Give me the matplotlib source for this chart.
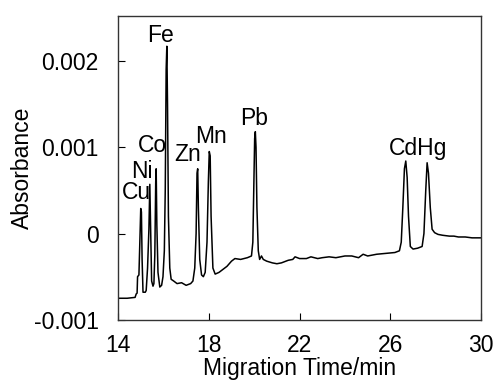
import matplotlib
matplotlib.use("Agg")
import matplotlib.pyplot as plt

plt.rcParams['font.family'] = ['Liberation Sans', 'DejaVu Sans']

# Migration time (min)
time_min = [
    14.00, 14.40, 14.75, 14.80, 14.84, 14.86, 14.92, 14.96, 15.00, 15.03,
    15.06, 15.10, 15.20, 15.24, 15.30, 15.36, 15.40, 15.44, 15.48, 15.54,
    15.58, 15.62, 15.66, 15.68, 15.71, 15.76, 15.84, 15.92, 15.98, 16.04,
    16.08, 16.12, 16.15, 16.18, 16.22, 16.28, 16.34, 16.45, 16.60, 16.80,
    17.00, 17.20, 17.30, 17.38, 17.44, 17.48, 17.51, 17.54, 17.60, 17.68,
    17.76, 17.84, 17.92, 17.98, 18.02, 18.06, 18.10, 18.18, 18.28, 18.45,
    18.60, 18.80, 19.00, 19.15, 19.40, 19.70, 19.88, 19.94, 19.98, 20.02,
    20.05, 20.08, 20.12, 20.18, 20.24, 20.32, 20.40, 20.55, 20.80, 21.00,
    21.20, 21.50, 21.70, 21.80, 22.00, 22.30, 22.50, 22.80, 23.00, 23.30,
    23.60, 24.00, 24.30, 24.60, 24.80, 25.00, 25.40, 25.80, 26.20, 26.40,
    26.48, 26.55, 26.62, 26.68, 26.74, 26.80, 26.88, 27.00, 27.20, 27.40,
    27.48, 27.56, 27.62, 27.68, 27.76, 27.84, 27.95, 28.10, 28.30, 28.60,
    28.80, 29.00, 29.30, 29.60, 30.00,
]

# Absorbance
absorbance = [
    -0.00075, -0.00075, -0.00074, -0.00070, -0.00069, -0.00050, -0.00048, -0.00010, 0.00029, 0.00025,
    -0.00030, -0.00068, -0.00068, -0.00066, -0.00040, 0.00005, 0.00057, 0.00000, -0.00055, -0.00061,
    -0.00058, -0.00025, 0.00060, 0.00075, 0.00010, -0.00045, -0.00062, -0.00060, -0.00050, -0.00020,
    0.00050, 0.00190, 0.00217, 0.00150, 0.00020, -0.00040, -0.00053, -0.00055, -0.00058, -0.00057,
    -0.00060, -0.00058, -0.00055, -0.00040, 0.00000, 0.00070, 0.00075, 0.00030, -0.00030, -0.00048,
    -0.00050, -0.00045, -0.00010, 0.00060, 0.00095, 0.00090, 0.00020, -0.00040, -0.00047, -0.00045,
    -0.00042, -0.00038, -0.00032, -0.00029, -0.00030, -0.00028, -0.00026, -0.00010, 0.00050, 0.00110,
    0.00118, 0.00100, 0.00030, -0.00020, -0.00030, -0.00026, -0.00030, -0.00032, -0.00034, -0.00035,
    -0.00034, -0.00031, -0.00030, -0.00027, -0.00029, -0.00029, -0.00027, -0.00029, -0.00028, -0.00027,
    -0.00028, -0.00026, -0.00026, -0.00028, -0.00024, -0.00026, -0.00024, -0.00023, -0.00022, -0.00020,
    -0.00010, 0.00030, 0.00075, 0.00084, 0.00065, 0.00020, -0.00015, -0.00018, -0.00017, -0.00015,
    0.00000, 0.00050, 0.00082, 0.00070, 0.00030, 0.00005, 0.00001, -0.00001, -0.00002, -0.00003,
    -0.00003, -0.00004, -0.00004, -0.00005, -0.00005,
]

# Peak labels
peak_names = ["Cu", "Ni", "Co", "Fe", "Zn", "Mn", "Pb", "CdHg"]
peak_label_x = [14.80, 15.06, 15.50, 15.88, 17.07, 18.10, 19.99, 27.23]
peak_label_y = [0.00047, 0.00072, 0.00102, 0.00230, 0.00091, 0.00112, 0.00133, 0.00098]

x_ticks = [14, 18, 22, 26, 30]
y_ticks = [-0.001, 0, 0.001, 0.002]
y_tick_labels = ["-0.001", "0", "0.001", "0.002"]

fig = plt.figure(figsize=(4.96, 3.91), dpi=100)
ax = fig.add_axes([0.238, 0.182, 0.732, 0.777])

ax.plot(time_min, absorbance, color="black", lw=1.1)

fs = 16.5
for name, lx, ly in zip(peak_names, peak_label_x, peak_label_y):
    ax.text(lx, ly, name, ha="center", va="center", fontsize=fs, color="black")

ax.set_xlim(14, 30)
ax.set_ylim(-0.001, 0.00252)
ax.set_xticks(x_ticks)
ax.set_xticklabels([str(t) for t in x_ticks])
ax.set_yticks(y_ticks)
ax.set_yticklabels(y_tick_labels)
ax.tick_params(axis="both", direction="in", length=5, width=0.8, labelsize=fs)
ax.tick_params(axis="x", pad=10)
ax.tick_params(axis="y", pad=14)

for sp in ax.spines.values():
    sp.set_linewidth(1.0)
    sp.set_color("#333333")

ax.set_xlabel("Migration Time/min", fontsize=fs, labelpad=0)
ax.set_ylabel("Absorbance", fontsize=fs, labelpad=0)

fig.savefig("out.png", dpi=100)
